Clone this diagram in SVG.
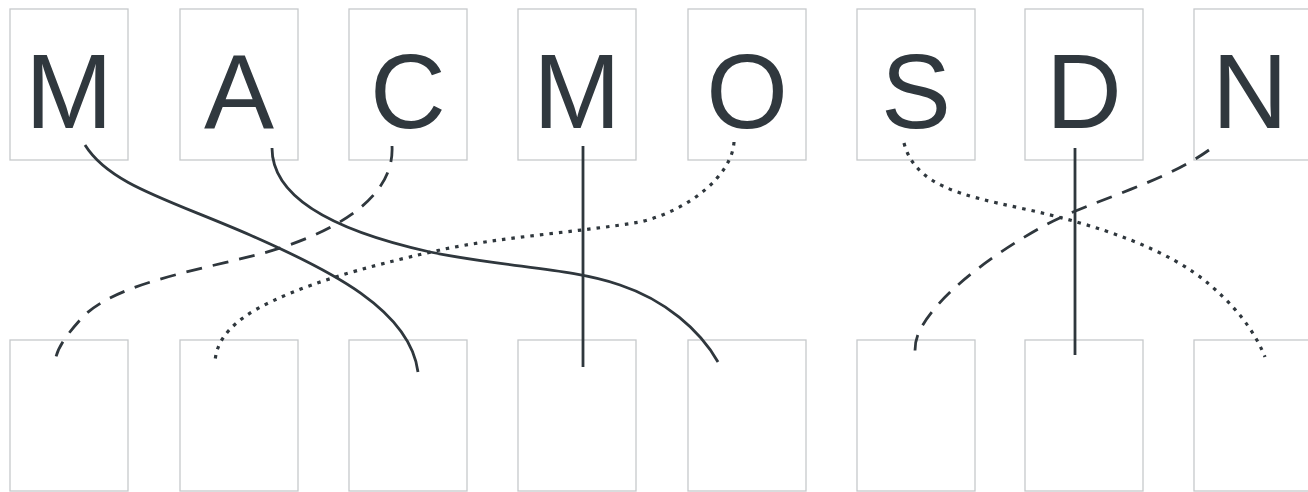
<svg xmlns="http://www.w3.org/2000/svg" width="1308" height="492" viewBox="0 0 1308 492">
<style>
.box{fill:#fff;stroke:#c6c9cb;stroke-width:1.3}
.lt{font-family:"Liberation Sans",Arial,sans-serif;font-size:105px;fill:#30383e;text-anchor:middle}
.c{fill:none;stroke:#2f373d;stroke-width:2.8}
.dash{stroke-dasharray:16 11}
.dot{stroke-width:3.2;stroke-dasharray:3.5 6}
</style>
<rect width="1308" height="492" fill="#fff"/>
<g id="top-nodes">
<g id="t1"><rect class="box" x="10" y="9" width="118" height="151"/><text class="lt" x="69" y="128">M</text></g>
<g id="t2"><rect class="box" x="180" y="9" width="118" height="151"/><text class="lt" x="239" y="128">A</text></g>
<g id="t3"><rect class="box" x="349" y="9" width="118" height="151"/><text class="lt" x="408" y="128">C</text></g>
<g id="t4"><rect class="box" x="518" y="9" width="118" height="151"/><text class="lt" x="577" y="128">M</text></g>
<g id="t5"><rect class="box" x="688" y="9" width="118" height="151"/><text class="lt" x="747" y="128">O</text></g>
<g id="t6"><rect class="box" x="857" y="9" width="118" height="151"/><text class="lt" x="916" y="128">S</text></g>
<g id="t7"><rect class="box" x="1025" y="9" width="118" height="151"/><text class="lt" x="1084" y="128">D</text></g>
<g id="t8"><rect class="box" x="1194" y="9" width="118" height="151"/><text class="lt" x="1250" y="128">N</text></g>
</g>
<g id="bottom-nodes">
<g id="b1"><rect class="box" x="10" y="340" width="118" height="151"/></g>
<g id="b2"><rect class="box" x="180" y="340" width="118" height="151"/></g>
<g id="b3"><rect class="box" x="349" y="340" width="118" height="151"/></g>
<g id="b4"><rect class="box" x="518" y="340" width="118" height="151"/></g>
<g id="b5"><rect class="box" x="688" y="340" width="118" height="151"/></g>
<g id="b6"><rect class="box" x="857" y="340" width="118" height="151"/></g>
<g id="b7"><rect class="box" x="1025" y="340" width="118" height="151"/></g>
<g id="b8"><rect class="box" x="1194" y="340" width="118" height="151"/></g>
</g>
<g id="connectors">
<path class="c" d="M85,145 C110,185 170,200 250,235 C330,270 410,310 418,372"/>
<path class="c" d="M272,148 C272,200 340,232 430,252 C510,268 570,268 620,285 C665,300 700,330 718,362"/>
<path class="c dash" d="M392,146 C395,200 330,235 260,254 C190,272 110,285 80,320 C62,340 56,352 55,362"/>
<path class="c" d="M583,146 L583,367" stroke-width="3"/>
<path class="c dot" d="M734,142 C732,175 690,210 640,222 C580,232 500,237 440,250 C360,268 300,285 255,310 C225,328 216,345 215,362"/>
<path class="c dot" d="M904,143 C915,185 960,195 1020,208 C1100,225 1170,250 1210,285 C1245,315 1258,340 1265,357"/>
<path class="c dash" d="M1209,150 C1160,185 1090,200 1040,228 C980,262 935,300 920,330 C915,340 915,346 915,352"/>
<path class="c" d="M1075,148 L1075,355" stroke-width="3"/>
</g>
</svg>
